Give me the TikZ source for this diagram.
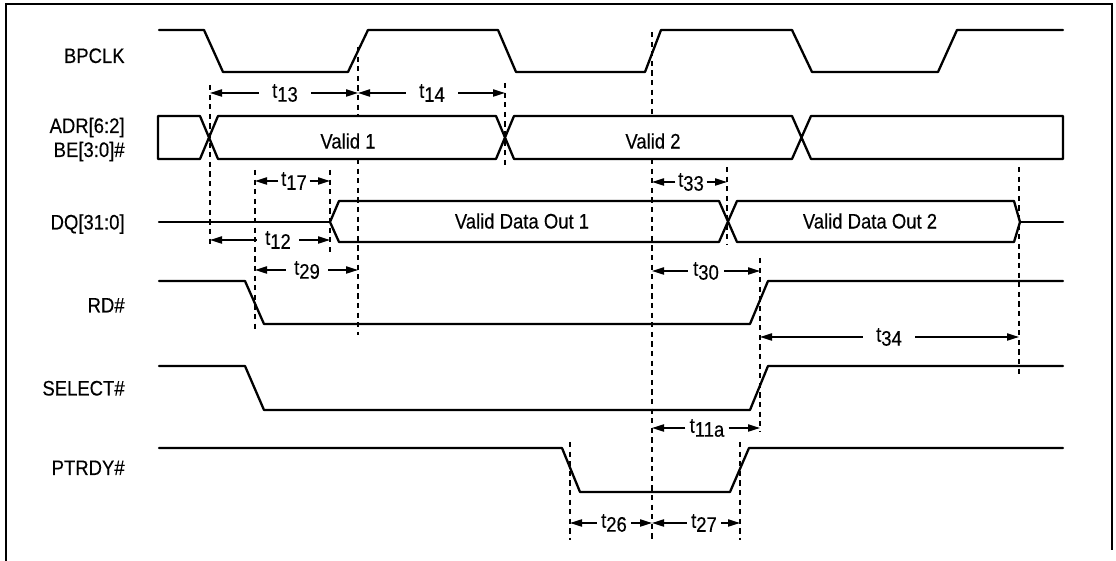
\documentclass[tikz,border=0pt]{standalone}
\usepackage{fontspec}
\setmainfont{Liberation Sans}[FakeStretch=0.88,FakeBold=0.3]
\usetikzlibrary{arrows.meta}
\newcommand\tsb[1]{t\raisebox{-2pt}{#1}}
\tikzset{
  sig/.style={line width=1.15pt, line join=round, line cap=round},
  guide/.style={line width=0.55pt, dash pattern=on 2.6pt off 2.2pt},
  dim/.style={line width=0.75pt, -{Triangle[length=6pt,width=3.6pt]}},
  siglabel/.style={anchor=base east, inner sep=0pt, font=\fontsize{10.5}{12}\selectfont},
  buslabel/.style={inner sep=0pt, font=\fontsize{10.5}{12}\selectfont},
  tlab/.style={inner ysep=0pt, font=\fontsize{10.5}{12}\selectfont},
  frameline/.style={line width=1.15pt}
}
\begin{document}
\begin{tikzpicture}[x=0.5pt,y=-0.5pt]
\useasboundingbox (0,0) rectangle (1116,561);
% frame
\draw[frameline] (6,561) -- (6,4) -- (1112,4) -- (1112,550);
% signal labels
\node[siglabel] (lclk) at (125,63) {BPCLK};
\node[siglabel] (ladr) at (125,133) {ADR[6:2]};
\node[siglabel] (lbe)  at (125,157) {BE[3:0]\#};
\node[siglabel] (ldq)  at (125,229.5) {DQ[31:0]};
\node[siglabel] (lrd)  at (125,312.5) {RD\#};
\node[siglabel] (lsel) at (125,395.5) {SELECT\#};
\node[siglabel] (lrdy) at (125,475) {PTRDY\#};
% waveforms
\draw[sig] (159,30) -- (204,30) -- (223,72) -- (348,72) -- (368,30) -- (498,30) -- (516,72) -- (645,72) -- (661,30) -- (792,30) -- (812,72) -- (938,72) -- (957,30) -- (1063,30);
\draw[sig] (218,116) -- (496,116) -- (514,159) -- (792,159) -- (811,116) -- (1063,116) -- (1063,159) -- (811,159) -- (792,116) -- (514,116) -- (496,159) -- (218,159) -- (200,116) -- (158,116) -- (158,159) -- (200,159) -- cycle;
\draw[sig] (159,222) -- (330,222);
\draw[sig] (330,222) -- (339,201) -- (719,201) -- (737,242) -- (1014,242) -- (1020,222) -- (1014,201) -- (737,201) -- (719,242) -- (339,242) -- cycle;
\draw[sig] (1020,222) -- (1063,222);
\draw[sig] (159,281) -- (245,281) -- (264,324) -- (750,324) -- (768,281) -- (1063,281);
\draw[sig] (159,366) -- (245,366) -- (264,410) -- (750,410) -- (768,366) -- (1063,366);
\draw[sig] (159,448) -- (562,448) -- (580,492) -- (730,492) -- (749,448) -- (1063,448);
% bus texts
\node[buslabel] (v1) at (348,141) {Valid 1};
\node[buslabel] (v2) at (653,141) {Valid 2};
\node[buslabel] (d1) at (522,221) {Valid Data Out 1};
\node[buslabel] (d2) at (870,221) {Valid Data Out 2};
% guide lines
\coordinate (gA1) at (210,85);   \coordinate (gA2) at (210,248);
\coordinate (gB1) at (255,170);  \coordinate (gB2) at (255,333);
\coordinate (gC1) at (330,170);  \coordinate (gC2) at (330,254);
\coordinate (gD1) at (358,47);   \coordinate (gD2) at (358,335);
\coordinate (gE1) at (505,83);   \coordinate (gE2) at (505,166);
\coordinate (gF1) at (652,32);   \coordinate (gF2) at (652,540);
\coordinate (gG1) at (727,167);  \coordinate (gG2) at (727,245);
\coordinate (gH1) at (760,258);  \coordinate (gH2) at (760,432);
\coordinate (gI1) at (1019,167); \coordinate (gI2) at (1019,378);
\coordinate (gJ1) at (570,442);  \coordinate (gJ2) at (570,540);
\coordinate (gK1) at (740,442);  \coordinate (gK2) at (740,540);
\foreach \g in {A,B,C,E,G,H,I,J,K} {\draw[guide] (g\g1) -- (g\g2);}
% guides D and F are broken inside the ADR bus
\draw[guide] (gD1) -- (358,116) (358,159) -- (gD2);
\draw[guide] (gF1) -- (652,116) (652,159) -- (gF2);
% timing labels
\node[tlab, inner xsep=6.5pt] (t13) at (285,93) {\tsb{13}};
\node[tlab, inner xsep=6.5pt] (t14) at (432,93) {\tsb{14}};
\node[tlab, inner xsep=1.2pt] (t17) at (294,181) {\tsb{17}};
\node[tlab, inner xsep=4pt] (t12) at (278,240) {\tsb{12}};
\node[tlab, inner xsep=4pt] (t29) at (307,270) {\tsb{29}};
\node[tlab, inner xsep=1.2pt] (t33) at (691,182) {\tsb{33}};
\node[tlab, inner xsep=2.5pt] (t30) at (706,271) {\tsb{30}};
\node[tlab, inner xsep=6.5pt] (t34) at (889,337) {\tsb{34}};
\node[tlab, inner xsep=2pt] (t11a) at (707,428) {\tsb{11a}};
\node[tlab, inner xsep=2pt] (t26) at (614,523) {\tsb{26}};
\node[tlab, inner xsep=2pt] (t27) at (704,523) {\tsb{27}};
% dimension arrows
\draw[dim] (t13.west) -- (t13.west -| gA1);
\draw[dim] (t13.east) -- (t13.east -| gD1);
\draw[dim] (t14.west) -- (t14.west -| gD1);
\draw[dim] (t14.east) -- (t14.east -| gE1);
\draw[dim] (t17.west) -- (t17.west -| gB1);
\draw[dim] (t17.east) -- (t17.east -| gC1);
\draw[dim] (t12.west) -- (t12.west -| gA1);
\draw[dim] (t12.east) -- (t12.east -| gC1);
\draw[dim] (t29.west) -- (t29.west -| gB1);
\draw[dim] (t29.east) -- (t29.east -| gD1);
\draw[dim] (t33.west) -- (t33.west -| gF1);
\draw[dim] (t33.east) -- (t33.east -| gG1);
\draw[dim] (t30.west) -- (t30.west -| gF1);
\draw[dim] (t30.east) -- (t30.east -| gH1);
\draw[dim] (t34.west) -- (t34.west -| gH1);
\draw[dim] (t34.east) -- (t34.east -| gI1);
\draw[dim] (t11a.west) -- (t11a.west -| gF1);
\draw[dim] (t11a.east) -- (t11a.east -| gH1);
\draw[dim] (t26.west) -- (t26.west -| gJ1);
\draw[dim] (t26.east) -- (t26.east -| gF1);
\draw[dim] (t27.west) -- (t27.west -| gF1);
\draw[dim] (t27.east) -- (t27.east -| gK1);
\end{tikzpicture}
\end{document}
